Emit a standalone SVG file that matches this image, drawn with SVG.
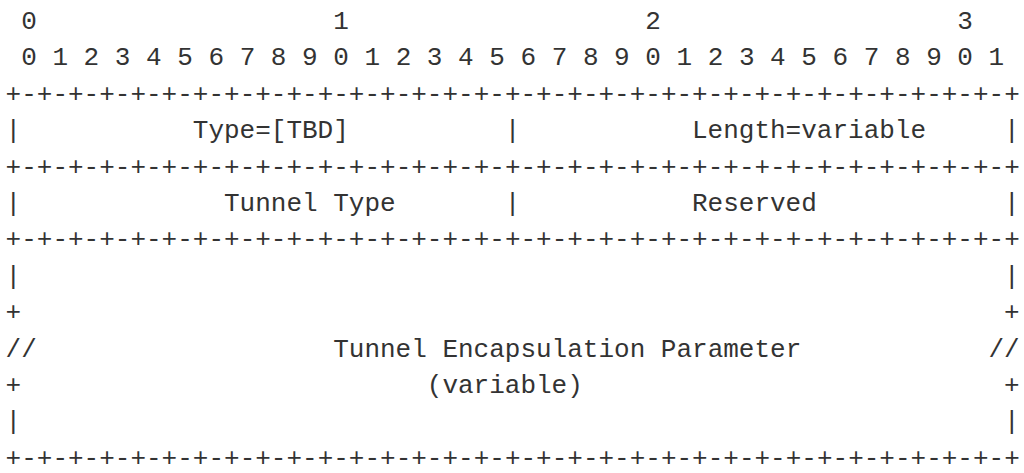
<svg xmlns="http://www.w3.org/2000/svg" width="1024" height="473" viewBox="0 0 1024 473">
<style>
text{font-family:"Liberation Mono","DejaVu Sans Mono",monospace;font-size:26px;fill:#333;white-space:pre}
</style>
<rect width="1024" height="473" fill="#fff"/>
<g id="ruler">
<text x="5.6" y="29" xml:space="preserve"> 0                   1                   2                   3</text>
<text x="5.6" y="65.4" xml:space="preserve"> 0 1 2 3 4 5 6 7 8 9 0 1 2 3 4 5 6 7 8 9 0 1 2 3 4 5 6 7 8 9 0 1</text>
</g>
<g id="connectors">
<text x="5.6" y="101.8">+-+-+-+-+-+-+-+-+-+-+-+-+-+-+-+-+-+-+-+-+-+-+-+-+-+-+-+-+-+-+-+-+</text>
<text x="5.6" y="138.2">|</text>
<text x="504.8" y="138.2">|</text>
<text x="1004" y="138.2">|</text>
<text x="5.6" y="174.6">+-+-+-+-+-+-+-+-+-+-+-+-+-+-+-+-+-+-+-+-+-+-+-+-+-+-+-+-+-+-+-+-+</text>
<text x="5.6" y="211">|</text>
<text x="504.8" y="211">|</text>
<text x="1004" y="211">|</text>
<text x="5.6" y="247.4">+-+-+-+-+-+-+-+-+-+-+-+-+-+-+-+-+-+-+-+-+-+-+-+-+-+-+-+-+-+-+-+-+</text>
<text x="5.6" y="283.8">|</text>
<text x="1004" y="283.8">|</text>
<text x="5.6" y="320.2">+</text>
<text x="1004" y="320.2">+</text>
<text x="5.6" y="356.6">//</text>
<text x="988.4" y="356.6">//</text>
<text x="5.6" y="393">+</text>
<text x="1004" y="393">+</text>
<text x="5.6" y="429.4">|</text>
<text x="1004" y="429.4">|</text>
<text x="5.6" y="465.8">+-+-+-+-+-+-+-+-+-+-+-+-+-+-+-+-+-+-+-+-+-+-+-+-+-+-+-+-+-+-+-+-+</text>
</g>
<g id="type"><text x="192.8" y="138.2">Type=[TBD]</text></g>
<g id="length"><text x="692" y="138.2">Length=variable</text></g>
<g id="tunnel-type"><text x="224" y="211">Tunnel Type</text></g>
<g id="reserved"><text x="692" y="211">Reserved</text></g>
<g id="parameter">
<text x="333.2" y="356.6">Tunnel Encapsulation Parameter</text>
<text x="426.8" y="393">(variable)</text>
</g>
</svg>
